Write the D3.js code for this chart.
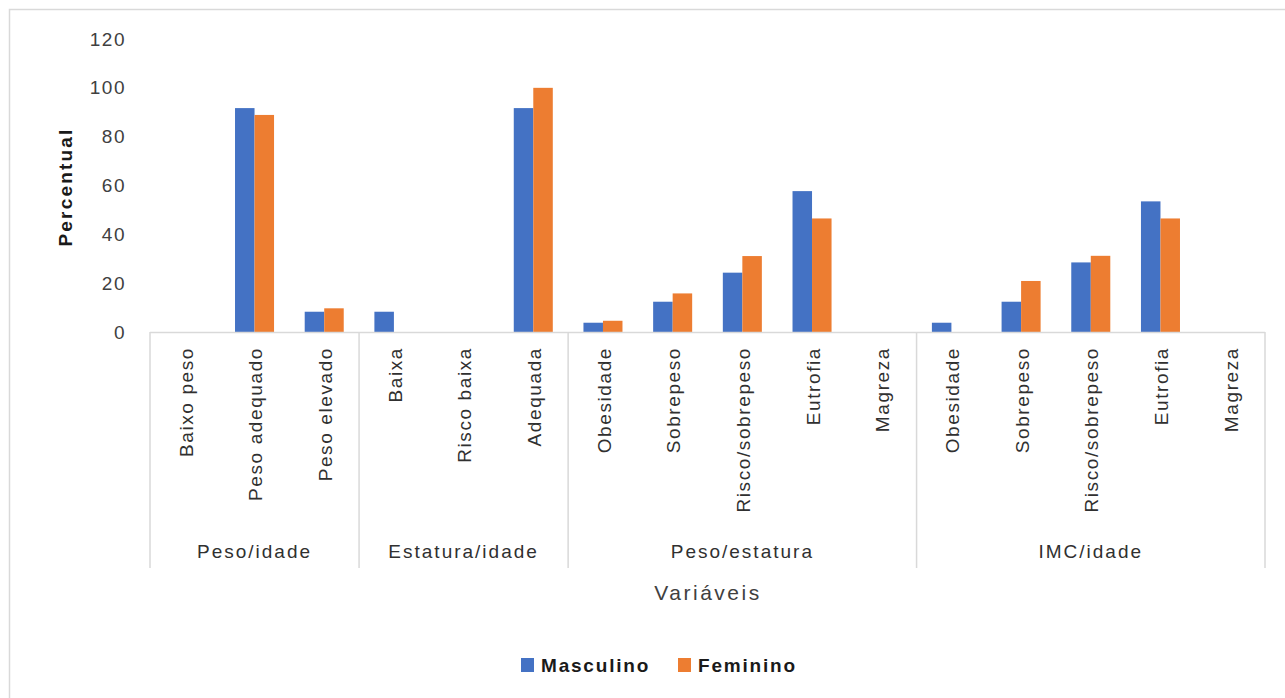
<!DOCTYPE html>
<html>
<head>
<meta charset="utf-8">
<script src="https://cdn.jsdelivr.net/npm/d3@7"></script>
<style>
  html, body { margin: 0; padding: 0; background: #fff; }
  svg text { font-family: "Liberation Sans", Arial, sans-serif; }
</style>
</head>
<body>
<svg id="chart" width="1285" height="698"></svg>
<script>
// data
const categories = ['Baixo peso', 'Peso adequado', 'Peso elevado',
  'Baixa', 'Risco baixa', 'Adequada',
  'Obesidade', 'Sobrepeso', 'Risco/sobrepeso', 'Eutrofia', 'Magreza',
  'Obesidade', 'Sobrepeso', 'Risco/sobrepeso', 'Eutrofia', 'Magreza'];
const groups = ['Peso/idade', 'Estatura/idade', 'Peso/estatura', 'IMC/idade'];
const groupSizes = [3, 3, 5, 5];
const masculino = [0, 91.7, 8.3, 8.3, 0, 91.7, 3.8, 12.4, 24.3, 57.7, 0, 3.8, 12.4, 28.5, 53.5, 0];
const feminino = [0, 88.9, 9.7, 0, 0, 100, 4.6, 15.8, 31.1, 46.5, 0, 0, 20.9, 31.2, 46.5, 0];
const series = ['Masculino', 'Feminino'];
const yTicks = [0, 20, 40, 60, 80, 100, 120];

const color = d3.scaleOrdinal(series, ['#4472C4', '#ED7D31']);

const svg = d3.select('#chart');

// outer chart frame
svg.append('rect')
  .attr('x', 9.5).attr('y', 9.5)
  .attr('width', 1290).attr('height', 700)
  .attr('fill', 'none').attr('stroke', '#d9d9d9').attr('stroke-width', 1.5);

const y = d3.scaleLinear().domain([0, 120]).range([332, 39]);

const x0 = d3.scaleBand()
  .domain(d3.range(categories.length))
  .range([150, 1265])
  .paddingInner(0.44)
  .paddingOuter(0.22);

const x1 = d3.scaleBand().domain(series).range([0, x0.bandwidth()]);

const rows = categories.map((c, i) => ({ i, values: [masculino[i], feminino[i]] }));

// bars
svg.append('g')
  .selectAll('g')
  .data(rows)
  .join('g')
  .attr('transform', d => `translate(${x0(d.i)},0)`)
  .selectAll('rect')
  .data(d => series.map((s, k) => ({ s, v: d.values[k] })))
  .join('rect')
  .attr('x', d => x1(d.s))
  .attr('y', d => y(d.v))
  .attr('width', x1.bandwidth())
  .attr('height', d => y(0) - y(d.v))
  .attr('fill', d => color(d.s));

// y axis labels
const yAxis = svg.append('g')
  .attr('transform', 'translate(134,0)')
  .call(d3.axisLeft(y).tickValues(yTicks).tickSize(0).tickPadding(8));
yAxis.select('.domain').remove();
yAxis.selectAll('text')
  .attr('font-size', 19)
  .attr('letter-spacing', 1.5)
  .attr('fill', '#404040')
  .style('font-family', '"Liberation Sans", Arial, sans-serif');

// x axis line + group separators
const edge = i => x0(i) - (x0.step() - x0.bandwidth()) / 2;
svg.append('line')
  .attr('x1', 150).attr('x2', 1265)
  .attr('y1', y(0) + 0.5).attr('y2', y(0) + 0.5)
  .attr('stroke', '#d9d9d9').attr('stroke-width', 1.5);

const bounds = [0];
groupSizes.forEach(n => bounds.push(bounds[bounds.length - 1] + n));
svg.append('g')
  .selectAll('line')
  .data(bounds)
  .join('line')
  .attr('x1', d => d < categories.length ? edge(d) : 1265)
  .attr('x2', d => d < categories.length ? edge(d) : 1265)
  .attr('y1', y(0)).attr('y2', 568)
  .attr('stroke', '#d9d9d9').attr('stroke-width', 1.5);

// category labels
svg.append('g')
  .selectAll('text')
  .data(rows)
  .join('text')
  .attr('transform', d => `translate(${x0(d.i) + x0.bandwidth() / 2 + 1},347) rotate(-90)`)
  .attr('text-anchor', 'end')
  .attr('dy', '0.35em')
  .attr('font-size', 19)
  .attr('letter-spacing', 1.6)
  .attr('fill', '#303030')
  .text(d => categories[d.i]);

// group labels
svg.append('g')
  .selectAll('text')
  .data(groups)
  .join('text')
  .attr('x', (g, k) => (edge(bounds[k]) + (bounds[k + 1] < categories.length ? edge(bounds[k + 1]) : 1265)) / 2)
  .attr('y', 551)
  .attr('dy', '0.35em')
  .attr('text-anchor', 'middle')
  .attr('font-size', 19)
  .attr('letter-spacing', 2)
  .attr('fill', '#303030')
  .text(g => g);

// axis titles
svg.append('text')
  .attr('x', 708).attr('y', 593)
  .attr('dy', '0.35em')
  .attr('text-anchor', 'middle')
  .attr('font-size', 21)
  .attr('letter-spacing', 2.5)
  .attr('fill', '#404040')
  .text('Variáveis');

svg.append('text')
  .attr('transform', 'translate(65,187) rotate(-90)')
  .attr('text-anchor', 'middle')
  .attr('dy', '0.35em')
  .attr('font-size', 19)
  .attr('font-weight', 'bold')
  .attr('letter-spacing', 2.2)
  .attr('fill', '#1a1a1a')
  .text('Percentual');

// legend
const legendX = [521, 678];
const legend = svg.append('g')
  .selectAll('g')
  .data(series)
  .join('g')
  .attr('transform', (d, k) => `translate(${legendX[k]},658)`);
legend.append('rect')
  .attr('width', 13).attr('height', 14)
  .attr('fill', d => color(d));
legend.append('text')
  .attr('x', 20).attr('y', 7)
  .attr('dy', '0.35em')
  .attr('font-size', 19)
  .attr('font-weight', 'bold')
  .attr('letter-spacing', 1.8)
  .attr('fill', '#1a1a1a')
  .text(d => d);
</script>
</body>
</html>
